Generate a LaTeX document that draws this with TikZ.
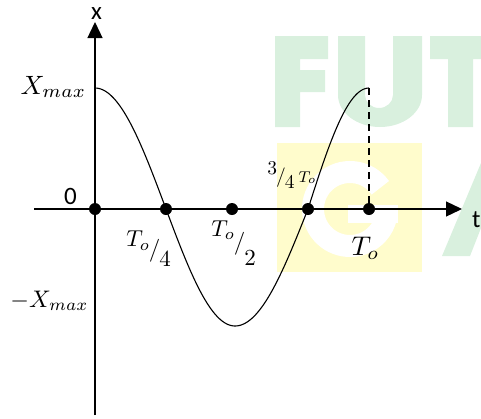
\documentclass[tikz,border=0pt]{standalone}
\usepackage{fontspec}
\newfontfamily\calib{Carlito}
\usetikzlibrary{arrows.meta}
\definecolor{wmgreen}{RGB}{217,240,222}
\definecolor{wmyellow}{RGB}{255,252,204}
\newcommand{\fsz}[1]{\fontsize{#1}{#1}\selectfont}
\newcommand{\myfrac}[4]{\raisebox{#3}{$#1$}\kern-0.05em$/$\kern-0.05em\raisebox{-#4}{$#2$}}
\begin{document}
\begin{tikzpicture}[x=1pt,y=-1pt,
  axis/.style={line width=1.3pt},
  curve/.style={line width=1.1pt},
  tip/.style={-{Triangle[length=16pt,width=15pt]}},
  dot/.style={circle,fill=black,inner sep=0pt,minimum size=12pt},
  lbl/.style={inner sep=0pt,anchor=base west},
  mlbl/.style={lbl,font={\fsz{10}},scale=#1},
  sans/.style={lbl,font={\calib\fsz{25}}}]
\useasboundingbox (0,0) rectangle (481,418);
% watermark
\begin{scope}
\clip (0,0) rectangle (481,418);
\fill[wmgreen] (275,36) -- (328,36) -- (328,59) -- (300,59) -- (300,70) -- (325,70) -- (325,92) -- (300,92) -- (300,127) -- (275,127) -- cycle;
\fill[wmgreen] (338,36) -- (338,95) arc[start angle=180,end angle=360,x radius=42pt,y radius=32pt] -- (422,36) -- (393,36) -- (393,95) arc[start angle=0,end angle=-180,x radius=14pt,y radius=13pt] -- (365,36) -- cycle;
\fill[wmgreen] (430,36) -- (492,36) -- (492,59) -- (473,59) -- (473,127) -- (448,127) -- (448,59) -- (430,59) -- cycle;
\fill[wmyellow] (277,143) rectangle (422,272);
\draw[white,line width=22pt] ([shift={(35:37pt)}]350,209) arc[start angle=35,end angle=360,radius=37pt];
\fill[white] (348,205) rectangle (398,223);
\fill[wmgreen] (442,256) -- (481,163) -- (481,228) -- (470,256) -- cycle;
\end{scope}
% coordinates
\coordinate (yb) at (95,415);
\coordinate (yt) at (95,22);
\coordinate (xl) at (34,209);
\coordinate (xr) at (462,209);
\coordinate (peak) at (369,88);
% curve
\draw[curve] plot[domain=95:166,samples=40] (\x,{209-121*cos(90*(\x-95)/71)})
  -- plot[domain=166:235,samples=40] (\x,{209+117*sin(90*(\x-166)/69)})
  -- plot[domain=235:308,samples=40] (\x,{209+117*cos(90*(\x-235)/73)})
  -- plot[domain=308:369,samples=40] (\x,{209-121*sin(90*(\x-308)/61)});
% axes
\draw[axis,tip] (yb) -- (yt);
\draw[axis,tip] (xl) -- (xr);
% dots
\node[dot] (d0) at (95,209) {};
\node[dot] (d1) at (166,209) {};
\node[dot] (d2) at (232,209) {};
\node[dot] (d3) at (308,209) {};
\node[dot] (d4) at (369,209) {};
\draw[line width=1.5pt,dash pattern=on 7pt off 5pt] (peak) -- (d4.center);
% labels
\node[sans] (xlab) at (91,19) {x};
\node[sans] (tlab) at (472,227) {t};
\node[sans] (zero) at (64,204) {0};
\node[mlbl=2.65] (xmax) at (20,94) {$X_{max}$};
\node[mlbl=2.4] (nxmax) at (10,307) {$-X_{max}$};
\node[mlbl=2.3] (q1) at (126,256) {\myfrac{T_o}{4}{0.41em}{0.45em}};
\node[mlbl=2.3] (q2) at (211,249) {\myfrac{T_o}{2}{0.55em}{0.71em}};
\node[mlbl=1.95] (q3) at (267,182) {\raisebox{0.37em}{$3$}\kern-0.05em$/$\kern-0.05em\raisebox{-0.32em}{$4$}\kern0.2em{\fsz{8}$T_o$}};
\node[mlbl=2.7] (to) at (351,255) {$T_o$};
\end{tikzpicture}
\end{document}
